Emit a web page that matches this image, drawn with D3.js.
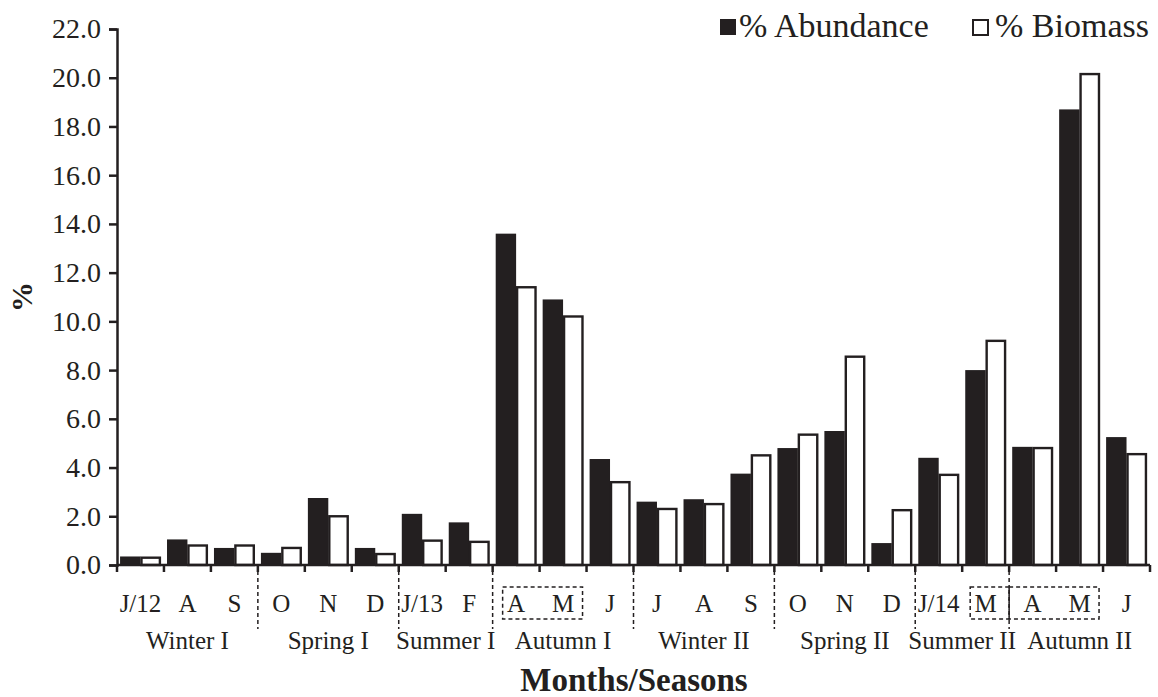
<!DOCTYPE html>
<html>
<head>
<meta charset="utf-8">
<script src="https://cdn.jsdelivr.net/npm/d3@7"></script>
<style>
  body { margin: 0; background: #fff; }
  text { font-family: "Liberation Serif", "Times New Roman", serif; fill: #231f20; }
</style>
</head>
<body>
<script>
const months = ['J/12','A','S','O','N','D','J/13','F','A','M','J','J','A','S','O','N','D','J/14','M','A','M','J'];
const abundance = [0.35,1.05,0.7,0.5,2.75,0.7,2.1,1.75,13.6,10.9,4.35,2.6,2.7,3.75,4.8,5.5,0.9,4.4,8.0,4.85,18.7,5.25];
const biomass   = [0.3,0.8,0.8,0.7,2.0,0.45,1.0,0.95,11.4,10.2,3.4,2.3,2.5,4.5,5.35,8.55,2.25,3.7,9.2,4.8,20.15,4.55];
const seasons = ['Winter I','Spring I','Summer I','Autumn I','Winter II','Spring II','Summer II','Autumn II'];
const seasonStart = [0,3,6,8,11,14,17,19];
const boxes = [[8,9],[18,18],[19,20]];
const series = ['% Abundance','% Biomass'];
const yTicks = [0,2,4,6,8,10,12,14,16,18,20,22];

const w = 1158, h = 697;
const pL = 117, pR = 1150, pT = 29, pB = 565;
const ink = '#231f20';

const svg = d3.select('body').append('svg').attr('width', w).attr('height', h);

const x = d3.scaleBand().domain(d3.range(months.length)).range([pL, pR]);
const xs = d3.scaleBand().domain([0,1]).range([0, x.bandwidth()]).paddingOuter(0.15);
const y = d3.scaleLinear().domain([0, 22]).range([pB, pT]);

// bars
const g = svg.append('g');
g.selectAll('rect.ab').data(abundance).enter().append('rect')
  .attr('x', (d,i) => x(i) + xs(0))
  .attr('y', d => y(d))
  .attr('width', xs.bandwidth())
  .attr('height', d => pB - y(d))
  .attr('fill', ink);
g.selectAll('rect.bm').data(biomass).enter().append('rect')
  .attr('x', (d,i) => x(i) + xs(1) + 1)
  .attr('y', d => y(d))
  .attr('width', xs.bandwidth() - 2)
  .attr('height', d => pB - y(d))
  .attr('fill', '#fff').attr('stroke', ink).attr('stroke-width', 2.4);

// y axis
const yAxis = d3.axisLeft(y).tickValues(yTicks).tickFormat(d3.format('.1f')).tickSize(8).tickPadding(8);
const ya = svg.append('g').attr('transform', `translate(${pL},0)`).call(yAxis);
ya.select('.domain').attr('stroke', ink).attr('stroke-width', 2.5);
ya.selectAll('.tick line').attr('stroke', ink).attr('stroke-width', 2.5);
ya.selectAll('.tick text').attr('font-size', 28).attr('font-family', 'Liberation Serif').attr('fill', ink);

// x axis line + ticks at band boundaries
svg.append('line').attr('x1', pL).attr('x2', pR).attr('y1', pB).attr('y2', pB)
  .attr('stroke', ink).attr('stroke-width', 2.5);
svg.selectAll('line.xt').data(d3.range(months.length + 1)).enter().append('line')
  .attr('x1', i => pL + i * x.step()).attr('x2', i => pL + i * x.step())
  .attr('y1', pB).attr('y2', pB + 7)
  .attr('stroke', ink).attr('stroke-width', 2.5);

// month labels
svg.selectAll('text.m').data(months).enter().append('text')
  .attr('x', (d,i) => x(i) + x.bandwidth() / 2)
  .attr('y', 612)
  .attr('text-anchor', 'middle').attr('font-size', 25)
  .text(d => d);

// season separators
svg.selectAll('line.sep').data(seasonStart.slice(1)).enter().append('line')
  .attr('x1', i => x(i)).attr('x2', i => x(i))
  .attr('y1', 571).attr('y2', 629)
  .attr('stroke', ink).attr('stroke-width', 1.5).attr('stroke-dasharray', '4,3');

// dashed boxes
const boxL = d => x(d[0]) + (d[0] === 8 ? 10 : d[0] === 18 ? 8 : 0);
const boxR = d => d[0] === 18 ? x(d[1]) + x.bandwidth() : x(d[1]) + x.bandwidth() - 4;
svg.selectAll('rect.box').data(boxes).enter().append('rect')
  .attr('x', boxL)
  .attr('y', 587)
  .attr('width', d => boxR(d) - boxL(d))
  .attr('height', 32)
  .attr('fill', 'none').attr('stroke', ink).attr('stroke-width', 1.5).attr('stroke-dasharray', '4,3');

// season labels
svg.selectAll('text.s').data(seasons).enter().append('text')
  .attr('x', (d,i) => {
    const a = seasonStart[i], b = i + 1 < seasonStart.length ? seasonStart[i+1] : months.length;
    return (x(a) + pL + b * x.step()) / 2;
  })
  .attr('y', 649)
  .attr('text-anchor', 'middle').attr('font-size', 25)
  .text(d => d);

// axis titles
svg.append('text').attr('x', 634).attr('y', 691).attr('text-anchor', 'middle')
  .attr('font-size', 33).attr('font-weight', 'bold').text('Months/Seasons');
svg.append('text').attr('transform', 'translate(32,297) rotate(-90)').attr('text-anchor', 'middle')
  .attr('font-size', 30).attr('font-weight', 'bold').text('%');

// legend
const legX = [720, 972];
const lg = svg.selectAll('g.leg').data(series).enter().append('g')
  .attr('transform', (d,i) => `translate(${legX[i]},0)`);
lg.append('rect').attr('x', (d,i) => i ? 1 : 0).attr('y', (d,i) => i ? 20 : 19)
  .attr('width', (d,i) => i ? 15 : 16).attr('height', (d,i) => i ? 15 : 16)
  .attr('fill', (d,i) => i ? '#fff' : ink)
  .attr('stroke', ink).attr('stroke-width', (d,i) => i ? 2 : 0);
lg.append('text').attr('x', (d,i) => i ? 23 : 19).attr('y', 37).attr('font-size', 34).text(d => d);
</script>
</body>
</html>
